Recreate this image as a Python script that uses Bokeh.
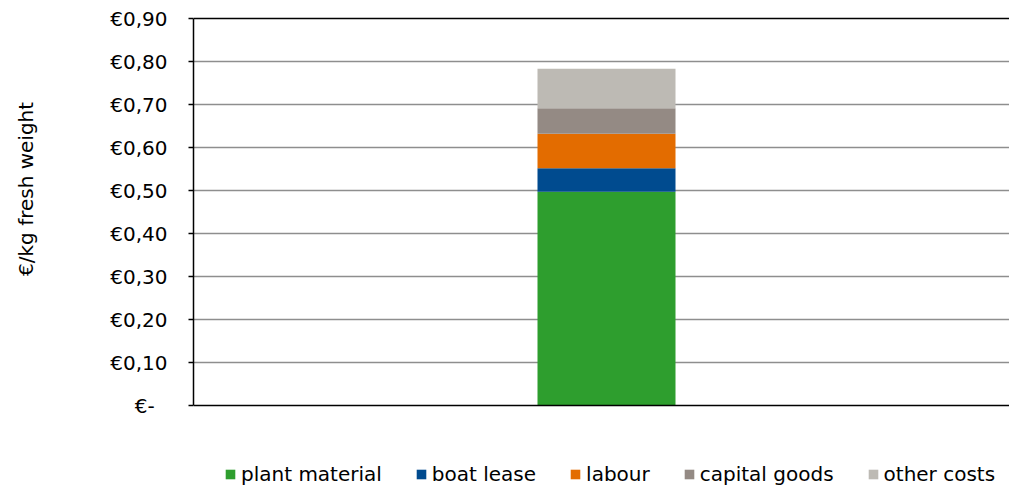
from bokeh.plotting import figure
from bokeh.models import Range1d, FixedTicker, Legend, LegendItem, Span, ColumnDataSource
from bokeh.embed import file_html
from bokeh.resources import INLINE

# ---- data ----
categories = ["total"]
series_names = ["plant material", "boat lease", "labour", "capital goods", "other costs"]
plant_material = [0.497]
boat_lease = [0.055]
labour = [0.080]
capital_goods = [0.059]
other_costs = [0.092]
series_colors = ["#2e9e2e", "#004b8f", "#e36c00", "#948a84", "#bdbab4"]
y_ticks = [0.0, 0.1, 0.2, 0.3, 0.4, 0.5, 0.6, 0.7, 0.8, 0.9]
y_tick_labels = ["€-\u00a0\u00a0", "€0,10", "€0,20", "€0,30", "€0,40", "€0,50",
                 "€0,60", "€0,70", "€0,80", "€0,90"]
y_title = "€/kg fresh weight"

keys = ["plant_material", "boat_lease", "labour", "capital_goods", "other_costs"]
source = ColumnDataSource(dict(
    x=list(range(len(categories))),
    plant_material=plant_material,
    boat_lease=boat_lease,
    labour=labour,
    capital_goods=capital_goods,
    other_costs=other_costs,
))

FONT = "DejaVu Sans"
FS = "20px"

# frame: x 193..1009, y 16..488 ; value axis 0..0.9 occupies y 18..405
frame_top, axis_top, axis_bottom, canvas_h = 16, 18, 405, 488
span = y_ticks[-1] - y_ticks[0]
px_per_unit = (axis_bottom - axis_top) / span
y_end = y_ticks[-1] + (axis_top - frame_top) / px_per_unit
y_start = y_end - (canvas_h - frame_top) / px_per_unit

p = figure(width=1009, height=canvas_h, output_backend="svg", toolbar_location=None,
           x_range=Range1d(-0.5, -0.5 + 816 / 826), y_range=Range1d(y_start, y_end),
           min_border_left=193, min_border_right=0, min_border_top=frame_top, min_border_bottom=0)
p.outline_line_color = None
p.background_fill_color = "white"
p.border_fill_color = "white"

renderers = p.vbar_stack(keys, x="x", width=138 / 826, color=series_colors,
                         line_color=None, source=source)

# y axis
yax = p.yaxis[0]
yax.ticker = FixedTicker(ticks=y_ticks)
yax.bounds = (y_ticks[0], y_ticks[-1])
yax.major_label_overrides = {t: l for t, l in zip(y_ticks, y_tick_labels)}
yax.axis_line_color = "black"
yax.axis_line_width = 1.5
yax.major_tick_line_color = "black"
yax.major_tick_line_width = 1.5
yax.major_tick_out = 5
yax.major_tick_in = 0
yax.minor_tick_line_color = None
yax.major_label_standoff = 21
yax.major_label_text_font = FONT
yax.major_label_text_font_size = FS
yax.major_label_text_color = "black"
yax.axis_label = "\u00a0" * 20 + y_title
yax.axis_label_text_font = FONT
yax.axis_label_text_font_size = FS
yax.axis_label_text_font_style = "normal"
yax.axis_label_text_color = "black"
yax.axis_label_standoff = 69

p.xaxis.visible = False

# grid
p.xgrid.grid_line_color = None
p.ygrid.ticker = FixedTicker(ticks=y_ticks[1:-1])
p.ygrid.grid_line_color = "#8e8e8e"
p.ygrid.grid_line_width = 1.5

# category axis line (bottom) and top border line
p.add_layout(Span(location=y_ticks[0], dimension="width", line_color="black", line_width=1.5))
p.add_layout(Span(location=y_ticks[-1], dimension="width", line_color="black", line_width=1.5))

# legend
items = [LegendItem(label=n, renderers=[r]) for n, r in zip(series_names, renderers)]
legend = Legend(items=items, orientation="horizontal", location=(31, 2),
                glyph_width=12, glyph_height=12, label_standoff=5, spacing=33,
                padding=0, margin=0, border_line_color=None, background_fill_alpha=0,
                label_text_font=FONT, label_text_font_size=FS, label_text_color="black")
p.add_layout(legend, "center")

open("out.html", "w").write(file_html(p, INLINE))
